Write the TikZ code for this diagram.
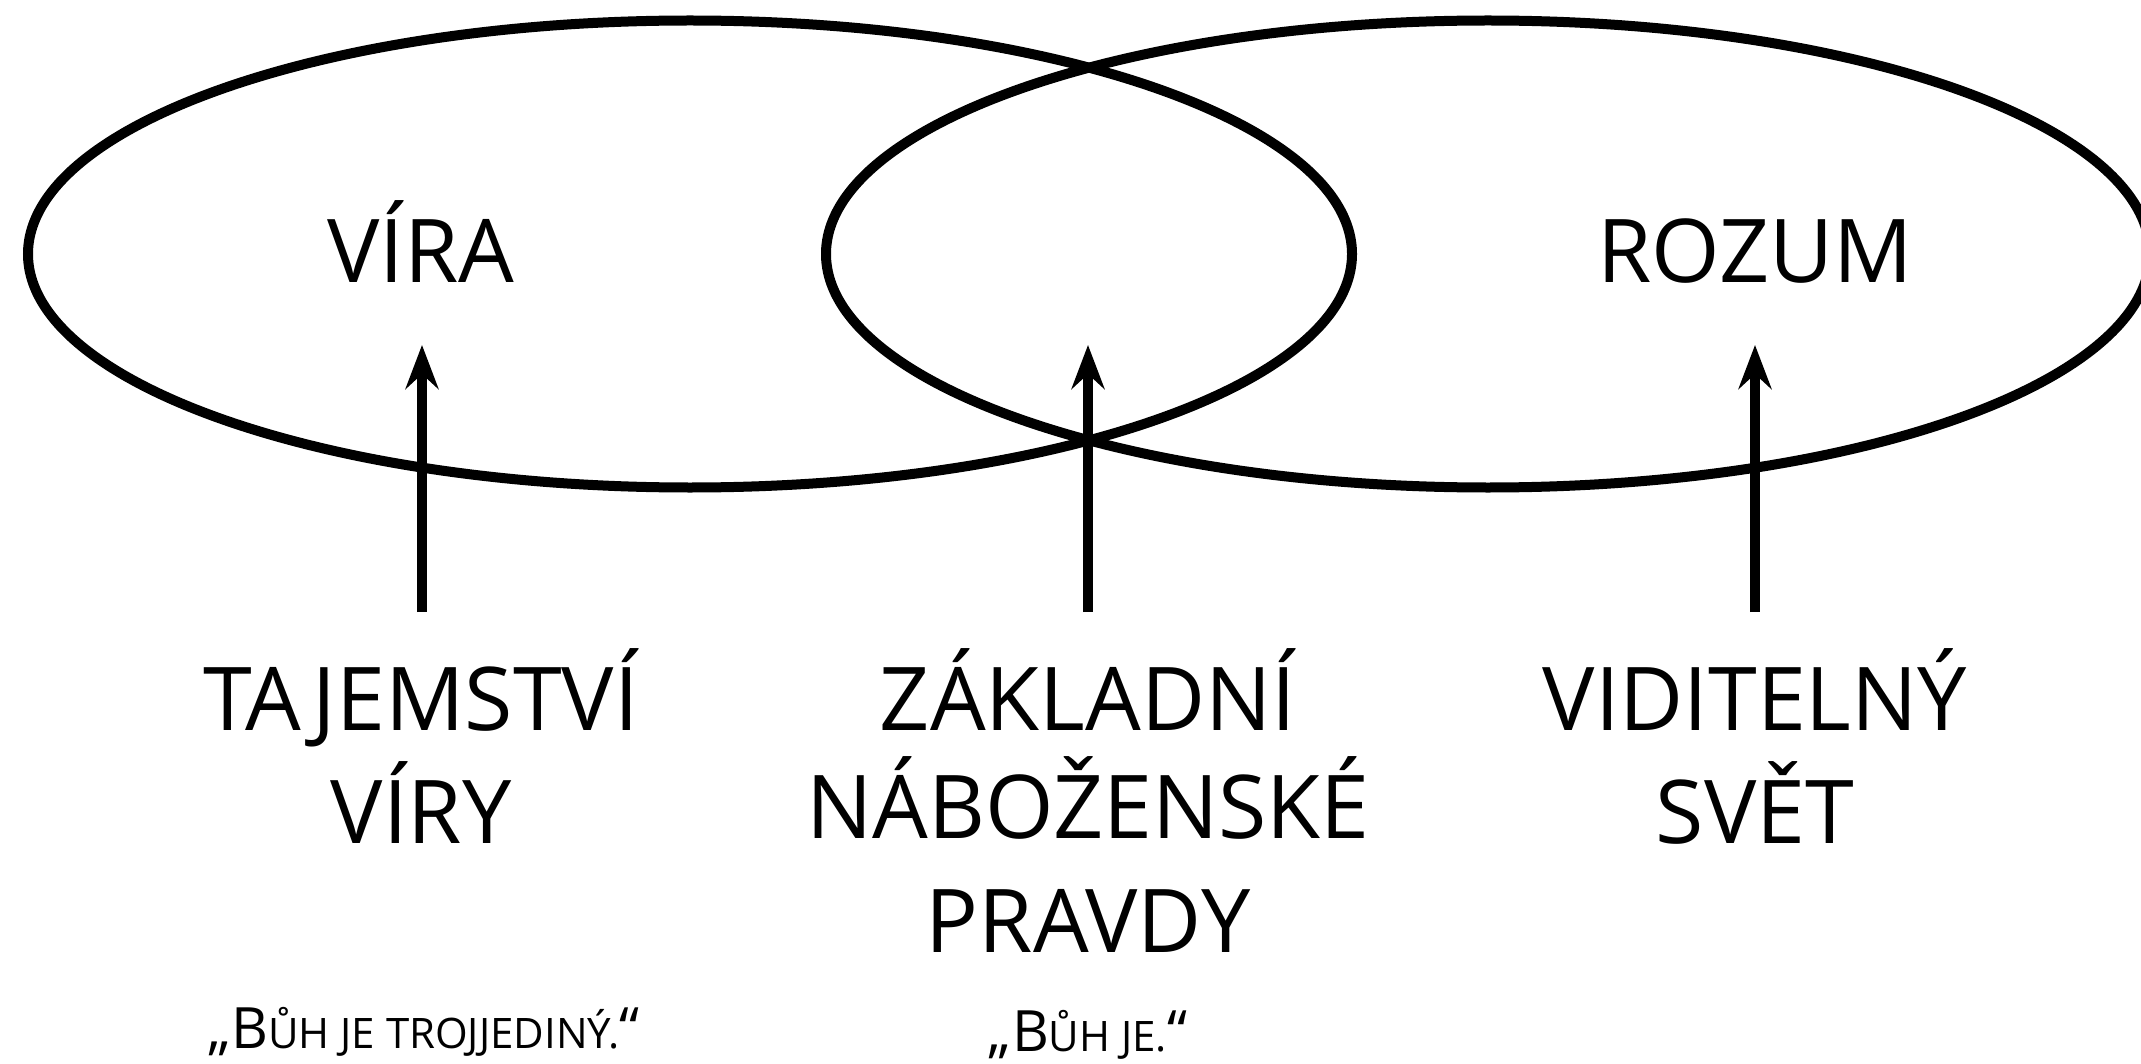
\documentclass[tikz,border=0pt]{standalone}
\usepackage{fontspec}
\setmainfont{Open Sans}
\usetikzlibrary{arrows.meta}
\tikzset{
  ring/.style={line width=5pt, draw=black},
  upArrow/.style={line width=5pt, -{Stealth[length=22pt, width=16.5pt, inset=7.5pt]}},
  bigtext/.style={font=\fontsize{44pt}{44pt}\selectfont, inner sep=0pt, anchor=base},
  quote/.style={font=\fontsize{28.5pt}{28.5pt}\selectfont, inner sep=0pt, anchor=base}
}
\newcommand{\smallc}[1]{{\fontsize{21pt}{21pt}\selectfont #1}}

\begin{document}

\begin{tikzpicture}[x=0.5pt,y=-0.5pt]
  \useasboundingbox (0,0) rectangle (2141,1064);
  \clip (0,0) rectangle (2141,1064);
  % ellipses
  \draw[ring] (690,254) ellipse [x radius=331pt, y radius=116.75pt];
  \draw[ring] (1488,254) ellipse [x radius=331pt, y radius=116.75pt];
  % top labels
  \node[bigtext] (vira) at (421,283) {VÍRA};
  \node[bigtext] (rozum) at (1755,283) {ROZUM};
  % arrows
  \coordinate (s1) at (422,612); \coordinate (e1) at (422,345);
  \coordinate (s2) at (1088,612); \coordinate (e2) at (1088,345);
  \coordinate (s3) at (1755,612); \coordinate (e3) at (1755,345);
  \draw[upArrow] (s1) -- (e1);
  \draw[upArrow] (s2) -- (e2);
  \draw[upArrow] (s3) -- (e3);
  % lower labels
  \node[bigtext] (taj1) at (421,730) {TAJEMSTVÍ};
  \node[bigtext] (taj2) at (421,843) {VÍRY};
  \node[bigtext] (zak1) at (1088,730) {ZÁKLADNÍ};
  \node[bigtext] (zak2) at (1088,838) {NÁBOŽENSKÉ};
  \node[bigtext] (zak3) at (1088,952) {PRAVDY};
  \node[bigtext] (vid1) at (1755,730) {VIDITELNÝ};
  \node[bigtext] (vid2) at (1755,843) {SVĚT};
  % quotes
  \node[quote] (q1) at (424,1048) {„B\smallc{ŮH JE TROJJEDINÝ.}“};
  \node[quote] (q2) at (1088,1051) {„B\smallc{ŮH JE.}“};
\end{tikzpicture}

\end{document}
